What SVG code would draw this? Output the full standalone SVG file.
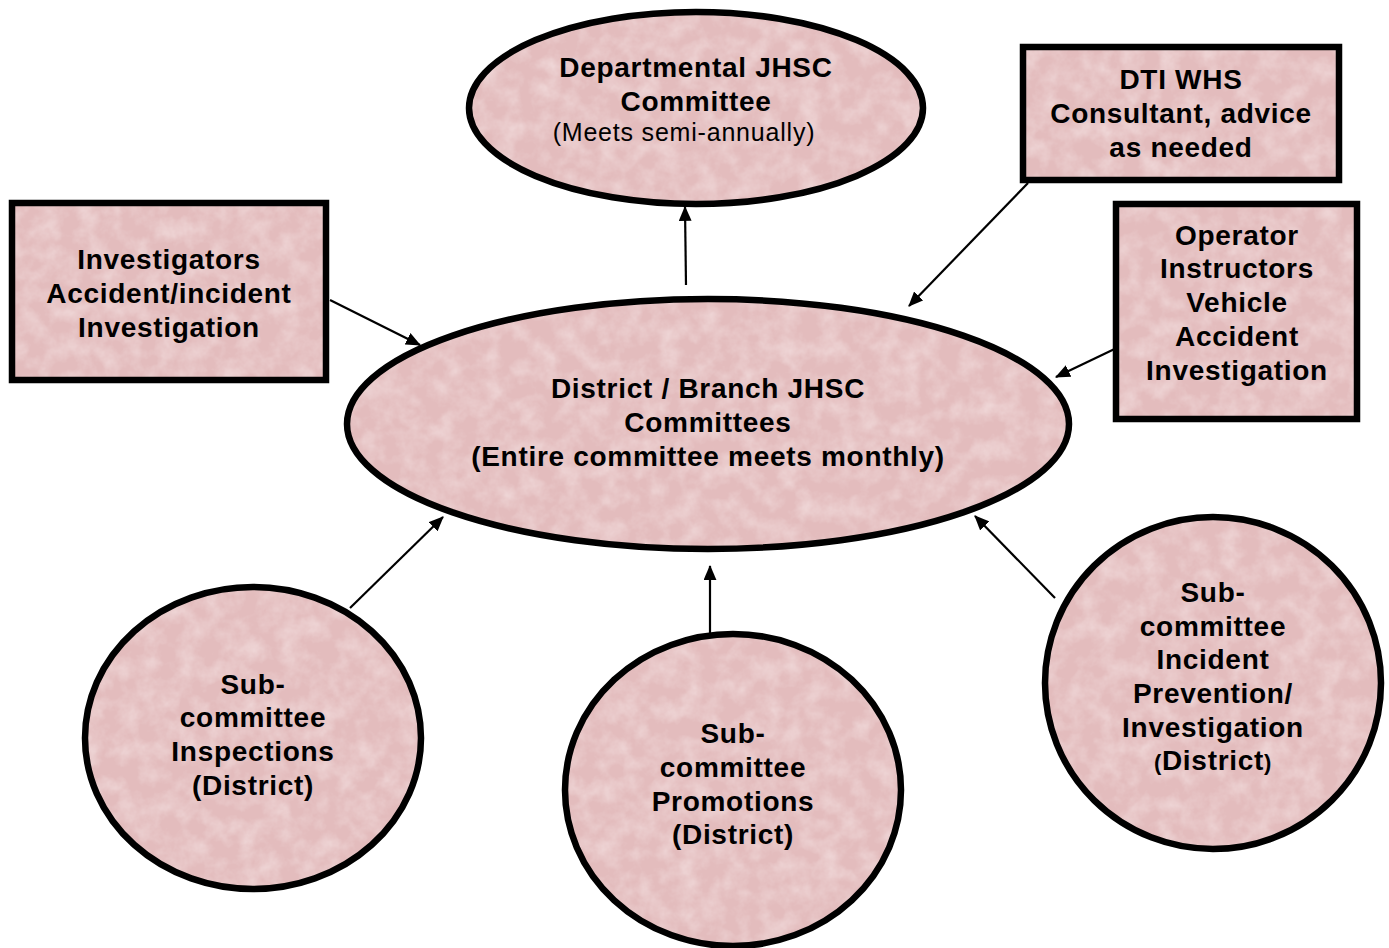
<svg xmlns="http://www.w3.org/2000/svg" width="1389" height="948" viewBox="0 0 1389 948">
<defs>
<filter id="tex" x="0" y="0" width="100%" height="100%" filterUnits="userSpaceOnUse">
<feTurbulence type="fractalNoise" baseFrequency="0.05" numOctaves="4" seed="5" result="n"/>
<feColorMatrix in="n" type="matrix" values="0 0 0 0 0.96  0 0 0 0 0.87  0 0 0 0 0.87  0.9 0 0 0 -0.33"/>
</filter>
<pattern id="pink" patternUnits="userSpaceOnUse" x="0" y="0" width="1389" height="948">
<rect width="1389" height="948" fill="#e3bcbd"/>
<rect width="1389" height="948" fill="#fff" filter="url(#tex)"/>
</pattern>
<marker id="ah" viewBox="0 0 14 12" refX="13" refY="6" markerWidth="15" markerHeight="13" markerUnits="userSpaceOnUse" orient="auto">
<path d="M0,0 L14,6 L0,12 z" fill="#000"/>
</marker>
</defs>
<style>
.shape{fill:url(#pink);stroke:#000;stroke-width:6.5}
.t{font-family:"Liberation Sans",Arial,sans-serif;font-weight:bold;font-size:28px;letter-spacing:0.7px;fill:#000;text-anchor:middle}
.r{font-weight:normal;font-size:25px;letter-spacing:0.8px}
.c{stroke:#000;stroke-width:2.2;fill:none;marker-end:url(#ah)}
</style>
<rect width="1389" height="948" fill="#fff"/>
<g id="connectors">
<line class="c" x1="686" y1="285" x2="685" y2="207"/>
<line class="c" x1="1028" y1="183" x2="909" y2="306"/>
<line class="c" x1="330" y1="300" x2="420" y2="345"/>
<line class="c" x1="1148" y1="333" x2="1056" y2="377"/>
<line class="c" x1="350" y1="608" x2="443" y2="517"/>
<line class="c" x1="710" y1="645" x2="710" y2="566"/>
<line class="c" x1="1055" y1="598" x2="975" y2="516"/>
</g>
<g id="departmental">
<ellipse class="shape" cx="696" cy="108" rx="227" ry="96"/>
<text class="t" x="696" y="77">Departmental JHSC</text>
<text class="t" x="696" y="111">Committee</text>
<text class="t r" x="684" y="141">(Meets semi-annually)</text>
</g>
<g id="dti">
<rect class="shape" x="1023" y="47" width="316" height="133"/>
<text class="t" x="1181" y="89">DTI WHS</text>
<text class="t" x="1181" y="123">Consultant, advice</text>
<text class="t" x="1181" y="157">as needed</text>
</g>
<g id="investigators">
<rect class="shape" x="12" y="203" width="314" height="177"/>
<text class="t" x="169" y="269">Investigators</text>
<text class="t" x="169" y="303">Accident/incident</text>
<text class="t" x="169" y="337">Investigation</text>
</g>
<g id="operator">
<rect class="shape" x="1116" y="204" width="241" height="215"/>
<text class="t" x="1237" y="245">Operator</text>
<text class="t" x="1237" y="278">Instructors</text>
<text class="t" x="1237" y="312">Vehicle</text>
<text class="t" x="1237" y="346">Accident</text>
<text class="t" x="1237" y="380">Investigation</text>
</g>
<g id="district">
<ellipse class="shape" cx="708" cy="424" rx="361" ry="125"/>
<text class="t" x="708" y="398">District / Branch JHSC</text>
<text class="t" x="708" y="432">Committees</text>
<text class="t" x="708" y="466">(Entire committee meets monthly)</text>
</g>
<g id="inspections">
<ellipse class="shape" cx="253" cy="738" rx="168" ry="151"/>
<text class="t" x="253" y="694">Sub-</text>
<text class="t" x="253" y="727">committee</text>
<text class="t" x="253" y="761">Inspections</text>
<text class="t" x="253" y="795">(District)</text>
</g>
<g id="promotions">
<ellipse class="shape" cx="733" cy="790" rx="168" ry="156"/>
<text class="t" x="733" y="743">Sub-</text>
<text class="t" x="733" y="777">committee</text>
<text class="t" x="733" y="811">Promotions</text>
<text class="t" x="733" y="844">(District)</text>
</g>
<g id="incident">
<ellipse class="shape" cx="1213" cy="683" rx="168" ry="166"/>
<text class="t" x="1213" y="602">Sub-</text>
<text class="t" x="1213" y="636">committee</text>
<text class="t" x="1213" y="669">Incident</text>
<text class="t" x="1213" y="703">Prevention/</text>
<text class="t" x="1213" y="737">Investigation</text>
<text class="t" x="1213" y="770"><tspan font-size="22">(</tspan>District<tspan font-size="22">)</tspan></text>
</g>
</svg>
